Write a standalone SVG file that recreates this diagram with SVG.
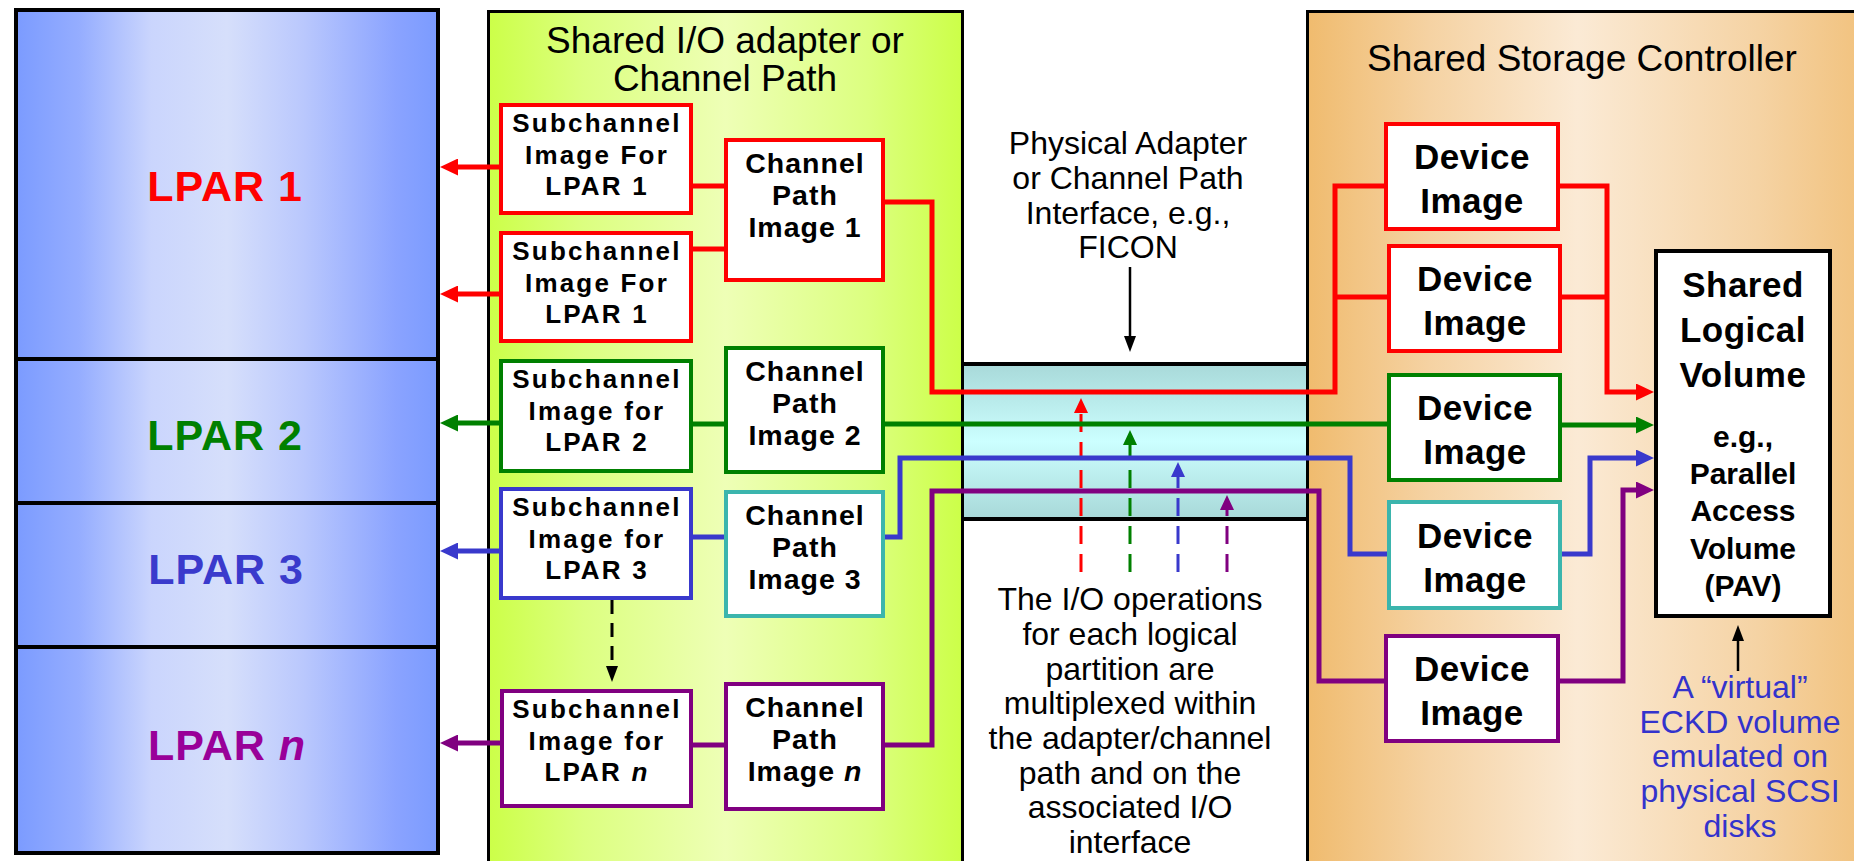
<svg xmlns="http://www.w3.org/2000/svg" width="1854" height="861" viewBox="0 0 1854 861">
<defs>
<linearGradient id="gLpar" x1="0" y1="0" x2="1" y2="0">
<stop offset="0" stop-color="#7b9bff"/><stop offset="0.15" stop-color="#95adff"/><stop offset="0.32" stop-color="#cad5fd"/><stop offset="0.5" stop-color="#d6dffb"/><stop offset="0.68" stop-color="#bac8fd"/><stop offset="0.9" stop-color="#8aa3ff"/><stop offset="1" stop-color="#7b9bff"/>
</linearGradient>
<linearGradient id="gAdapter" x1="0" y1="0" x2="1" y2="0">
<stop offset="0" stop-color="#ccff48"/><stop offset="0.2" stop-color="#dcff80"/><stop offset="0.5" stop-color="#eeffb6"/><stop offset="0.8" stop-color="#dcff80"/><stop offset="1" stop-color="#ccff48"/>
</linearGradient>
<linearGradient id="gStorage" x1="0" y1="0" x2="1" y2="0">
<stop offset="0" stop-color="#f0bb6e"/><stop offset="0.2" stop-color="#f5d2a2"/><stop offset="0.45" stop-color="#fbead5"/><stop offset="0.75" stop-color="#f5d3a4"/><stop offset="1" stop-color="#f0bb6e"/>
</linearGradient>
<linearGradient id="gBand" x1="0" y1="0" x2="0" y2="1">
<stop offset="0" stop-color="#a8d9d9"/><stop offset="0.5" stop-color="#ccffff"/><stop offset="1" stop-color="#a8d8d8"/>
</linearGradient>
<marker id="aR" viewBox="0 0 18 17" markerWidth="18" markerHeight="17" refX="8" refY="8.5" orient="auto" markerUnits="userSpaceOnUse"><path d="M0,0 L18,8.5 L0,17 z" fill="#ff0000"/></marker>
<marker id="aG" viewBox="0 0 18 17" markerWidth="18" markerHeight="17" refX="8" refY="8.5" orient="auto" markerUnits="userSpaceOnUse"><path d="M0,0 L18,8.5 L0,17 z" fill="#008000"/></marker>
<marker id="aB" viewBox="0 0 18 17" markerWidth="18" markerHeight="17" refX="8" refY="8.5" orient="auto" markerUnits="userSpaceOnUse"><path d="M0,0 L18,8.5 L0,17 z" fill="#3939cc"/></marker>
<marker id="aP" viewBox="0 0 18 17" markerWidth="18" markerHeight="17" refX="8" refY="8.5" orient="auto" markerUnits="userSpaceOnUse"><path d="M0,0 L18,8.5 L0,17 z" fill="#800080"/></marker>
<marker id="tR" viewBox="0 0 15 14" markerWidth="15" markerHeight="14" refX="5" refY="7" orient="auto" markerUnits="userSpaceOnUse"><path d="M0,0 L15,7 L0,14 z" fill="#ff0000"/></marker>
<marker id="tG" viewBox="0 0 15 14" markerWidth="15" markerHeight="14" refX="5" refY="7" orient="auto" markerUnits="userSpaceOnUse"><path d="M0,0 L15,7 L0,14 z" fill="#008000"/></marker>
<marker id="tB" viewBox="0 0 15 14" markerWidth="15" markerHeight="14" refX="5" refY="7" orient="auto" markerUnits="userSpaceOnUse"><path d="M0,0 L15,7 L0,14 z" fill="#3939cc"/></marker>
<marker id="tP" viewBox="0 0 15 14" markerWidth="15" markerHeight="14" refX="5" refY="7" orient="auto" markerUnits="userSpaceOnUse"><path d="M0,0 L15,7 L0,14 z" fill="#800080"/></marker>
<marker id="tK" viewBox="0 0 16 12" markerWidth="16" markerHeight="12" refX="6" refY="6" orient="auto" markerUnits="userSpaceOnUse"><path d="M0,0 L16,6 L0,12 z" fill="#000"/></marker>
</defs>
<style>
text{font-family:"Liberation Sans",Arial,Helvetica,sans-serif;text-anchor:middle;fill:#000}
.title{font-size:37px}
.note{font-size:32px}
.lpar{font-size:43px;font-weight:bold;letter-spacing:1px}
.sub{font-size:26px;font-weight:bold;letter-spacing:2.2px}
.cp{font-size:28.5px;font-weight:bold;letter-spacing:1px}
.dev{font-size:35px;font-weight:bold;letter-spacing:0.5px}
.slv2{font-size:30px;font-weight:bold}
.box{fill:#fff;stroke-width:4}
.r{stroke:#ff0000}.g{stroke:#008000}.b{stroke:#3939cc}.p{stroke:#800080}.t{stroke:#3bb5ad}.k{stroke:#000}
.ln{fill:none;stroke-width:5;stroke-linejoin:miter}
.dl{fill:none;stroke-width:3;stroke-dasharray:18 10}
</style>

<g id="lpar-column">
<rect x="16" y="10" width="422" height="843" fill="url(#gLpar)" stroke="#000" stroke-width="4"/>
<path d="M14,359 H440 M14,503 H440 M14,647 H440" stroke="#000" stroke-width="4"/>
</g>
<g id="lpar1"><text class="lpar" x="225" y="201" style="fill:#ff0000">LPAR 1</text></g>
<g id="lpar2"><text class="lpar" x="225" y="450" style="fill:#008000">LPAR 2</text></g>
<g id="lpar3"><text class="lpar" x="226" y="584" style="fill:#3a3acc">LPAR 3</text></g>
<g id="lparn"><text class="lpar" x="227" y="760" style="fill:#990099">LPAR <tspan font-style="italic">n</tspan></text></g>

<g id="interface-band">
<rect x="962" y="364" width="346" height="155" fill="url(#gBand)"/>
<path d="M962,364 H1308 M962,519 H1308" stroke="#000" stroke-width="4"/>
</g>

<g id="adapter-panel">
<rect x="488.5" y="11.5" width="474" height="900" fill="url(#gAdapter)" stroke="#000" stroke-width="3"/>
<text class="title" x="725" y="53">Shared I/O adapter or</text>
<text class="title" x="725" y="91">Channel Path</text>
</g>

<g id="storage-panel">
<rect x="1307.5" y="11.5" width="600" height="900" fill="url(#gStorage)" stroke="#000" stroke-width="3"/>
<text class="title" x="1582" y="71">Shared Storage Controller</text>
</g>

<g id="interface-label">
<text class="note" x="1128" y="154">Physical Adapter</text>
<text class="note" x="1128" y="189">or Channel Path</text>
<text class="note" x="1128" y="224">Interface, e.g.,</text>
<text class="note" x="1128" y="258">FICON</text>
</g>

<g id="multiplex-label">
<text class="note" x="1130" y="610">The I/O operations</text>
<text class="note" x="1130" y="645">for each logical</text>
<text class="note" x="1130" y="680">partition are</text>
<text class="note" x="1130" y="714">multiplexed within</text>
<text class="note" x="1130" y="749">the adapter/channel</text>
<text class="note" x="1130" y="784">path and on the</text>
<text class="note" x="1130" y="818">associated I/O</text>
<text class="note" x="1130" y="853">interface</text>
</g>

<g id="virtual-label">
<text class="note" x="1740" y="698" style="fill:#3333cc">A “virtual”</text>
<text class="note" x="1740" y="733" style="fill:#3333cc">ECKD volume</text>
<text class="note" x="1740" y="767" style="fill:#3333cc">emulated on</text>
<text class="note" x="1740" y="802" style="fill:#3333cc">physical SCSI</text>
<text class="note" x="1740" y="837" style="fill:#3333cc">disks</text>
</g>

<g id="connectors">
<path class="dl r" d="M1081,572 V408" marker-end="url(#tR)"/>
<path class="dl g" d="M1130,572 V440" marker-end="url(#tG)"/>
<path class="dl b" d="M1178,572 V472" marker-end="url(#tB)"/>
<path class="dl p" d="M1227,572 V505" marker-end="url(#tP)"/>
<path d="M1130,267 V342" stroke="#000" stroke-width="2.5" fill="none" marker-end="url(#tK)"/>
<path d="M1738,671 V635" stroke="#000" stroke-width="2.5" fill="none" marker-end="url(#tK)"/>
<path d="M612,600 V672" stroke="#000" stroke-width="3" stroke-dasharray="14 9" fill="none" marker-end="url(#tK)"/>

<path class="ln r" d="M499,167 H450" marker-end="url(#aR)"/>
<path class="ln r" d="M499,294 H450" marker-end="url(#aR)"/>
<path class="ln r" d="M693,186 H724 M693,249 H724"/>
<path class="ln r" d="M885,202 H932 V392 H1335 V186 H1384 M1335,297 H1387"/>
<path class="ln r" d="M1560,186 H1607 V392 H1644" marker-end="url(#aR)"/>
<path class="ln r" d="M1562,297 H1607"/>

<path class="ln g" d="M499,423 H450" marker-end="url(#aG)"/>
<path class="ln g" d="M693,424 H724 M885,424 H1387"/>
<path class="ln g" d="M1562,425 H1644" marker-end="url(#aG)"/>

<path class="ln b" d="M501,551 H450" marker-end="url(#aB)"/>
<path class="ln b" d="M693,537 H724 M885,537 H900 V458 H1350 V554 H1387"/>
<path class="ln b" d="M1562,554 H1590 V458 H1644" marker-end="url(#aB)"/>

<path class="ln p" d="M502,743 H450" marker-end="url(#aP)"/>
<path class="ln p" d="M692,745 H724 M885,745 H932 V491 H1319 V681 H1384"/>
<path class="ln p" d="M1560,681 H1623 V490 H1644" marker-end="url(#aP)"/>
</g>

<g id="sub1"><rect class="box r" x="501" y="105" width="190" height="108"/>
<text class="sub" x="597" y="132">Subchannel</text><text class="sub" x="597" y="164">Image For</text><text class="sub" x="597" y="195">LPAR 1</text></g>
<g id="sub1b"><rect class="box r" x="501" y="233" width="190" height="108"/>
<text class="sub" x="597" y="260">Subchannel</text><text class="sub" x="597" y="292">Image For</text><text class="sub" x="597" y="323">LPAR 1</text></g>
<g id="sub2"><rect class="box g" x="501" y="361" width="190" height="110"/>
<text class="sub" x="597" y="388">Subchannel</text><text class="sub" x="597" y="420">Image for</text><text class="sub" x="597" y="451">LPAR 2</text></g>
<g id="sub3"><rect class="box b" x="501" y="489" width="190" height="109"/>
<text class="sub" x="597" y="516">Subchannel</text><text class="sub" x="597" y="548">Image for</text><text class="sub" x="597" y="579">LPAR 3</text></g>
<g id="subn"><rect class="box p" x="502" y="691" width="189" height="115"/>
<text class="sub" x="597" y="718">Subchannel</text><text class="sub" x="597" y="750">Image for</text><text class="sub" x="597" y="781">LPAR <tspan font-style="italic">n</tspan></text></g>

<g id="cp1"><rect class="box r" x="726" y="140" width="157" height="140"/>
<text class="cp" x="805" y="173">Channel</text><text class="cp" x="805" y="205">Path</text><text class="cp" x="805" y="237">Image 1</text></g>
<g id="cp2"><rect class="box g" x="726" y="348" width="157" height="124"/>
<text class="cp" x="805" y="381">Channel</text><text class="cp" x="805" y="413">Path</text><text class="cp" x="805" y="445">Image 2</text></g>
<g id="cp3"><rect class="box t" x="726" y="492" width="157" height="124"/>
<text class="cp" x="805" y="525">Channel</text><text class="cp" x="805" y="557">Path</text><text class="cp" x="805" y="589">Image 3</text></g>
<g id="cpn"><rect class="box p" x="726" y="684" width="157" height="125"/>
<text class="cp" x="805" y="717">Channel</text><text class="cp" x="805" y="749">Path</text><text class="cp" x="805" y="781">Image <tspan font-style="italic">n</tspan></text></g>

<g id="dev1"><rect class="box r" x="1386" y="124" width="172" height="105"/>
<text class="dev" x="1472" y="169">Device</text><text class="dev" x="1472" y="213">Image</text></g>
<g id="dev2"><rect class="box r" x="1389" y="246" width="171" height="105"/>
<text class="dev" x="1475" y="291">Device</text><text class="dev" x="1475" y="335">Image</text></g>
<g id="dev3"><rect class="box g" x="1389" y="375" width="171" height="105"/>
<text class="dev" x="1475" y="420">Device</text><text class="dev" x="1475" y="464">Image</text></g>
<g id="dev4"><rect class="box t" x="1389" y="502" width="171" height="106"/>
<text class="dev" x="1475" y="548">Device</text><text class="dev" x="1475" y="592">Image</text></g>
<g id="dev5"><rect class="box p" x="1386" y="636" width="172" height="105"/>
<text class="dev" x="1472" y="681">Device</text><text class="dev" x="1472" y="725">Image</text></g>

<g id="shared-volume"><rect class="box k" x="1656" y="251" width="174" height="365"/>
<text class="dev" x="1743" y="297">Shared</text><text class="dev" x="1743" y="342">Logical</text><text class="dev" x="1743" y="387">Volume</text>
<text class="slv2" x="1743" y="447">e.g.,</text><text class="slv2" x="1743" y="484">Parallel</text><text class="slv2" x="1743" y="521">Access</text><text class="slv2" x="1743" y="559">Volume</text><text class="slv2" x="1743" y="596">(PAV)</text></g>
</svg>
